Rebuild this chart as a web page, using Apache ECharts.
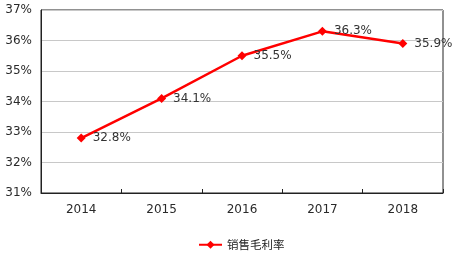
<!DOCTYPE html>
<html><head><meta charset="utf-8">
<script src="https://cdn.jsdelivr.net/npm/echarts@6/dist/echarts.min.js"></script>
<style>html,body{margin:0;padding:0;background:#fff}#c{width:458px;height:256px}</style>
</head><body><div id="c"></div>
<script>
var categories = ['2014', '2015', '2016', '2017', '2018'];
var seriesName = '销售毛利率';
var values = [32.8, 34.1, 35.5, 36.3, 35.9];
var yMin = 31, yMax = 37, yStep = 1;

var chart = echarts.init(document.getElementById('c'), null, {renderer: 'canvas'});
chart.setOption({
  animation: false,
  backgroundColor: '#fff',
  textStyle: {fontFamily: 'DejaVu Sans'},
  grid: {left: 41, right: 15, top: 10, bottom: 63, show: true, borderColor: '#222', borderWidth: 1, containLabel: false},
  legend: {
    top: 234, left: 193,
    itemWidth: 23, itemHeight: 10, itemGap: 10,
    textStyle: {fontSize: 11.5, color: '#222', fontFamily: 'Noto Sans CJK SC'},
    data: [seriesName]
  },
  xAxis: {
    type: 'category', data: categories, boundaryGap: true,
    axisLine: {lineStyle: {color: '#222'}},
    axisTick: {show: true, inside: true, length: 4, lineStyle: {color: '#222'}},
    axisLabel: {fontSize: 12, color: '#2a2a2a', margin: 11, fontFamily: 'DejaVu Sans'}
  },
  yAxis: {
    type: 'value', min: yMin, max: yMax, interval: yStep,
    axisLine: {show: true, lineStyle: {color: '#222'}},
    axisTick: {show: false},
    splitLine: {lineStyle: {color: '#c8c8c8'}},
    axisLabel: {fontSize: 12, color: '#2a2a2a', margin: 9, formatter: function(v){return v + '%';}, fontFamily: 'DejaVu Sans'}
  },
  series: [{
    name: seriesName, type: 'line', data: values,
    symbol: 'diamond', symbolSize: 9,
    itemStyle: {color: '#ff0000'},
    lineStyle: {color: '#ff0000', width: 2.5},
    label: {show: true, position: 'right', distance: 7, fontSize: 12, color: '#333',
      fontFamily: 'DejaVu Sans', formatter: function(p){return p.value.toFixed(1) + '%';}}
  }]
});
</script></body></html>
